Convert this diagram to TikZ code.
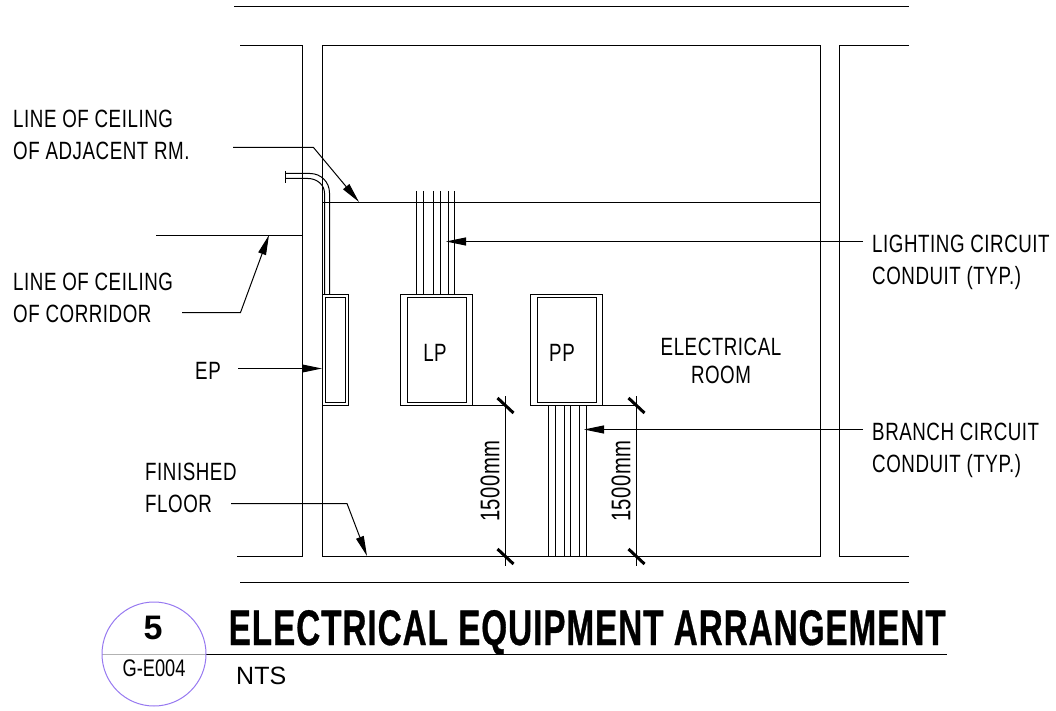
\documentclass[tikz,border=0pt]{standalone}
\usepackage{fontspec}
\setmainfont{Liberation Sans}
\newfontfamily\narrowfont[FakeStretch=0.75,LetterSpace=2.2]{Liberation Sans}
\newfontfamily\sheetfont[FakeStretch=0.76]{Liberation Sans}
\newfontfamily\titlefont[FakeStretch=0.664,LetterSpace=2,FakeBold=0.6]{Liberation Sans Bold}
\usetikzlibrary{arrows.meta}
\tikzset{
	wall/.style={line width=1.1pt},
	thinline/.style={line width=1pt},
	tick/.style={line width=3pt},
	leader/.style={line width=1pt, -{Triangle[length=20pt,width=8pt]}},
	note/.style={font=\narrowfont\fontsize{25}{32}\selectfont, align=left, inner sep=0pt},
	dimtext/.style={font=\narrowfont\fontsize{27}{27}\selectfont, inner sep=0pt, rotate=90},
}
\begin{document}
\begin{tikzpicture}[x=1pt,y=-1pt]
		\useasboundingbox (0, 0) rectangle (1056, 711);
		%%%%% BORDER LINES %%%%%
		\draw[wall] (234, 6.5) -- (909, 6.5);
		\draw[wall] (240, 582.5) -- (909, 582.5);
		
		%%%%% WALLS %%%%%
		\draw[wall] (240, 45.5) -- (302.5, 45.5) -- (302.5, 556.5) -- (237, 556.5);
		\draw[wall] (322.5, 45.5) rectangle (820.5, 556.5);
		\draw[wall] (909, 45.5) -- (839.5, 45.5) -- (839.5, 556.5) -- (909, 556.5);
		\draw[wall] (322.5, 202.5) -- (820.5, 202.5);
		\draw[wall] (156, 235.5) -- (302.5, 235.5);
		
		%%%%% PANELS %%%%%
		\draw[wall] (322.5, 294.5) rectangle (348.5, 405.5);
		\draw[wall] (325.5, 297.5) rectangle (345.5, 402.5);
		\draw[wall] (400.5, 294.5) rectangle (472.5, 405.5);
		\draw[wall] (407.5, 297.5) rectangle (466.5, 402.5);
		\draw[wall] (530.5, 294.5) rectangle (602.5, 405.5);
		\draw[wall] (537.5, 297.5) rectangle (596.5, 402.5);
		
		%%%%% CONDUITS %%%%%
		\draw[thinline] (285.5, 171) -- (285.5, 183);
		\draw[thinline] (285.5, 173.5) -- (310, 173.5) .. controls (321, 173.5) and (329.5, 182) .. (329.5, 193) -- (329.5, 294.5);
		\draw[thinline] (285.5, 178.5) -- (308, 178.5) .. controls (317, 178.5) and (324.5, 185) .. (324.5, 193) -- (324.5, 294.5);
		\foreach \xconduit in {416.5, 423.5, 433.5, 440.5, 448.5, 454.5}
			\draw[thinline] (\xconduit, 191) -- (\xconduit, 294.5);
		\foreach \xconduit in {548.5, 555.5, 564.5, 570.5, 579.5, 586.5}
			\draw[thinline] (\xconduit, 405.5) -- (\xconduit, 556.5);
		
		%%%%% DIMENSIONS %%%%%
		\draw[thinline] (472.5, 405.5) -- (505.5, 405.5);
		\draw[thinline] (602.5, 405.5) -- (636.5, 405.5);
		\foreach \xdim in {505.5, 636.5} {
			\draw[thinline] (\xdim, 396) -- (\xdim, 566);
			\draw[tick] (\xdim-8, 398) -- (\xdim+8, 413);
			\draw[tick] (\xdim-8, 549) -- (\xdim+8, 564);
		}
		\node[dimtext] (dimlp) at (490, 481) {1500mm};
		\node[dimtext] (dimpp) at (621, 481) {1500mm};
		
		%%%%% LABELS %%%%%
		\node[note, anchor=north west] (adjacent) at (13, 109.5) {LINE OF CEILING\\OF ADJACENT RM.};
		\node[note, anchor=north west] (corridor) at (13, 273) {LINE OF CEILING\\OF CORRIDOR};
		\node[note, anchor=west] (ep) at (195, 371) {EP};
		\node[note, anchor=north west] (floor) at (145, 463) {FINISHED\\FLOOR};
		\node[note, anchor=north west] (lighting) at (872, 234.5) {LIGHTING CIRCUIT\\CONDUIT (TYP.)};
		\node[note, anchor=north west] (branch) at (872, 422.5) {BRANCH CIRCUIT\\CONDUIT (TYP.)};
		\node[note, align=center] (room) at (721, 360.5) {ELECTRICAL\\[-4pt]ROOM};
		\node[note] (lp) at (435, 353) {LP};
		\node[note] (pp) at (562, 353) {PP};
		
		%%%%% LEADERS %%%%%
		\coordinate (adjacentbend) at (313.5, 147.5);
		\coordinate (adjacenttip) at (359, 202);
		\coordinate (adjacentend) at (233, 147.5);
		\coordinate (corridorend) at (182, 312.5);
		\coordinate (corridorbend) at (240.5, 312.5);
		\coordinate (corridortip) at (269, 235);
		\coordinate (epend) at (238, 368.5);
		\coordinate (eptip) at (322, 368.5);
		\coordinate (floorend) at (231, 503.5);
		\coordinate (floorbend) at (347, 503.5);
		\coordinate (floortip) at (367, 556);
		\coordinate (lightingend) at (863, 241.5);
		\coordinate (lightingtip) at (446, 241.5);
		\coordinate (branchend) at (863, 429.5);
		\coordinate (branchtip) at (584, 429.5);
		\draw[leader] (adjacentend) -- (adjacentbend) -- (adjacenttip);
		\draw[leader] (corridorend) -- (corridorbend) -- (corridortip);
		\draw[leader] (epend) -- (eptip);
		\draw[leader] (floorend) -- (floorbend) -- (floortip);
		\draw[leader] (lightingend) -- (lightingtip);
		\draw[leader] (branchend) -- (branchtip);
		
		%%%%% TITLE %%%%%
		\draw[wall] (206, 654.5) -- (947, 654.5);
		\draw[line width=1pt, color=black!30] (102, 654.5) -- (206, 654.5);
		\draw[line width=1pt, color={rgb,255:red,150;green,120;blue,240}] (154, 654) circle (52);
		\node[inner sep=0pt] (number) at (153, 628) {\fontsize{34}{34}\selectfont\bfseries 5};
		\node[inner sep=0pt] (sheet) at (154, 668) {\sheetfont\fontsize{24}{24}\selectfont G-E004};
		\node[inner sep=0pt, anchor=base west] (title) at (228.5, 645) {\titlefont\fontsize{50}{50}\selectfont ELECTRICAL EQUIPMENT ARRANGEMENT};
		\node[inner sep=0pt, anchor=west] (nts) at (236, 676) {\fontsize{25}{25}\selectfont NTS};
		
		%%%%% END %%%%%
	\end{tikzpicture}
\end{document}
